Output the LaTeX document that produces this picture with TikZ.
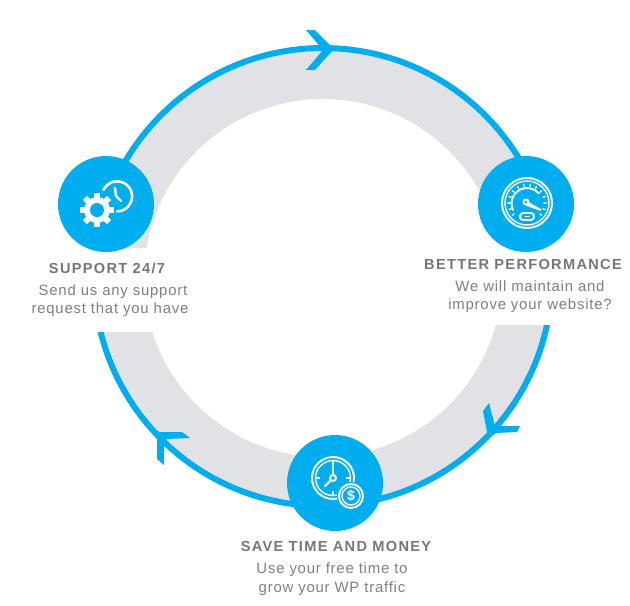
\documentclass[tikz,border=0pt]{standalone}
\usepackage{fontspec}
\setmainfont{Liberation Sans}
\newfontfamily\headfont[LetterSpace=9.0]{Liberation Sans}
\newfontfamily\bodyfont[LetterSpace=5.2]{Liberation Sans}
\usepackage{xcolor}
\usetikzlibrary{calc, positioning}
\definecolor{ringblue}{HTML}{00AEEF}
\definecolor{ringgray}{HTML}{E0E2E6}
\definecolor{headgray}{HTML}{777777}
\definecolor{labelgray}{HTML}{808080}
\tikzset{
    badge/.style={circle, fill=ringblue, minimum size=1.92cm, inner sep=0pt},
    heading/.style={text=headgray, inner sep=0pt, font=\headfont\bfseries\fontsize{8.3}{10}\selectfont},
    blurb/.style={text=labelgray, inner sep=0pt, font=\bodyfont\fontsize{8.5}{10}\selectfont},
    icon/.style={draw=white, line width=1.1pt, line cap=round},
    chevron/.style={fill=ringblue}
}

\begin{document}
\begin{tikzpicture}[x=0.02cm, y=-0.02cm]
    \useasboundingbox (0,0) rectangle (630,606);

    % ring
    \fill[ringgray, even odd rule] (323,277) circle (229) (323,278) circle (179);
    \draw[ringblue, line width=3.4pt] (323,277) circle (229);

    % gaps behind the texts
    \fill[white] (0,248) rectangle (200,332);
    \fill[white] (480,238) rectangle (630,325);

    % arrow heads
    \fill[chevron] (306,30) -- (315,30) -- (334,49) -- (315,70) -- (306,70) -- (323,50) -- cycle;
    \fill[chevron] (489,403) -- (495,426) -- (520,426) -- (517,432) -- (496,433) -- (487,439) -- (487,432) -- (483,411) -- cycle;
    \fill[chevron] (182,432) -- (190,438) -- (167,439) -- (164,443) -- (164,465) -- (157,459) -- (157,437) -- (153,429) -- (160,432) -- cycle;

    % badges
    \node[badge] (support) at (106,204) {};
    \node[badge] (performance) at (526,204) {};
    \node[badge] (savetime) at (335,483) {};

    % gear and clock
    \foreach \a in {0,45,...,315}
        \fill[white, shift={(97,210)}, rotate=\a] (-3,-17) rectangle (3,-11);
    \fill[white] (97,210) circle (13);
    \fill[ringblue] (97,210) circle (7);
    \draw[icon, line width=1.5pt] (103.5,190) arc (-155:90:15);
    \draw[icon, line width=1.4pt] (115,188) -- (116,196) -- (121,201);

    % speedometer
    \draw[icon] (527,203) circle (25);
    \draw[icon, line width=0.8pt] (527,203) circle (22);
    \foreach \a in {140,160,...,400}
        \draw[icon, line width=0.8pt] ($(527,203)+(\a:17)$) -- ($(527,203)+(\a:19)$);
    \draw[icon] (513,210) arc (155:320:15.5);
    \draw[icon] (526,202) circle (2.5);
    \draw[icon] (528,203) -- (541,210) -- (527,205);
    \draw[icon, rounded corners=1.8pt] (520,213) rectangle (534,220);
    \draw[icon, line width=0.8pt] (525,216.5) -- (529,216.5);

    % clock and coin
    \draw[icon] (333,478) circle (21);
    \draw[icon, line width=0.8pt] (333,478) circle (17.5);
    \foreach \a in {0,90,180,270}
        \draw[icon, line width=0.8pt] ($(333,478)+(\a:13.5)$) -- ($(333,478)+(\a:17)$);
    \draw[icon] (333,478) circle (3);
    \draw[icon, line width=1.4pt] (333,475) -- (333,466);
    \draw[icon, line width=1.4pt] (331,480) -- (325,486);
    \fill[ringblue] (351,496) circle (14);
    \draw[icon] (351,496) circle (12);
    \draw[icon, line width=0.8pt] (351,496) circle (9);
    \node[text=white, inner sep=0pt, font=\bfseries\fontsize{8}{8}\selectfont] (dollar) at (351,496) {\$};

    % texts
    \node[heading] (supporthead) at (107,268) {SUPPORT 24/7};
    \node[blurb] (supportone) at (113,291.5) {Send us any support};
    \node[blurb] (supporttwo) at (110,309.5) {request that you have};
    \node[heading] (performancehead) at (523,264) {BETTER PERFORMANCE};
    \node[blurb] (performanceone) at (530,286.5) {We will maintain and};
    \node[blurb] (performancetwo) at (530,305.5) {improve your website?};
    \node[heading] (savetimehead) at (336,546) {SAVE TIME AND MONEY};
    \node[blurb] (savetimeone) at (332,569.5) {Use your free time to};
    \node[blurb] (savetimetwo) at (332,588.5) {grow your WP traffic};
\end{tikzpicture}
\end{document}
